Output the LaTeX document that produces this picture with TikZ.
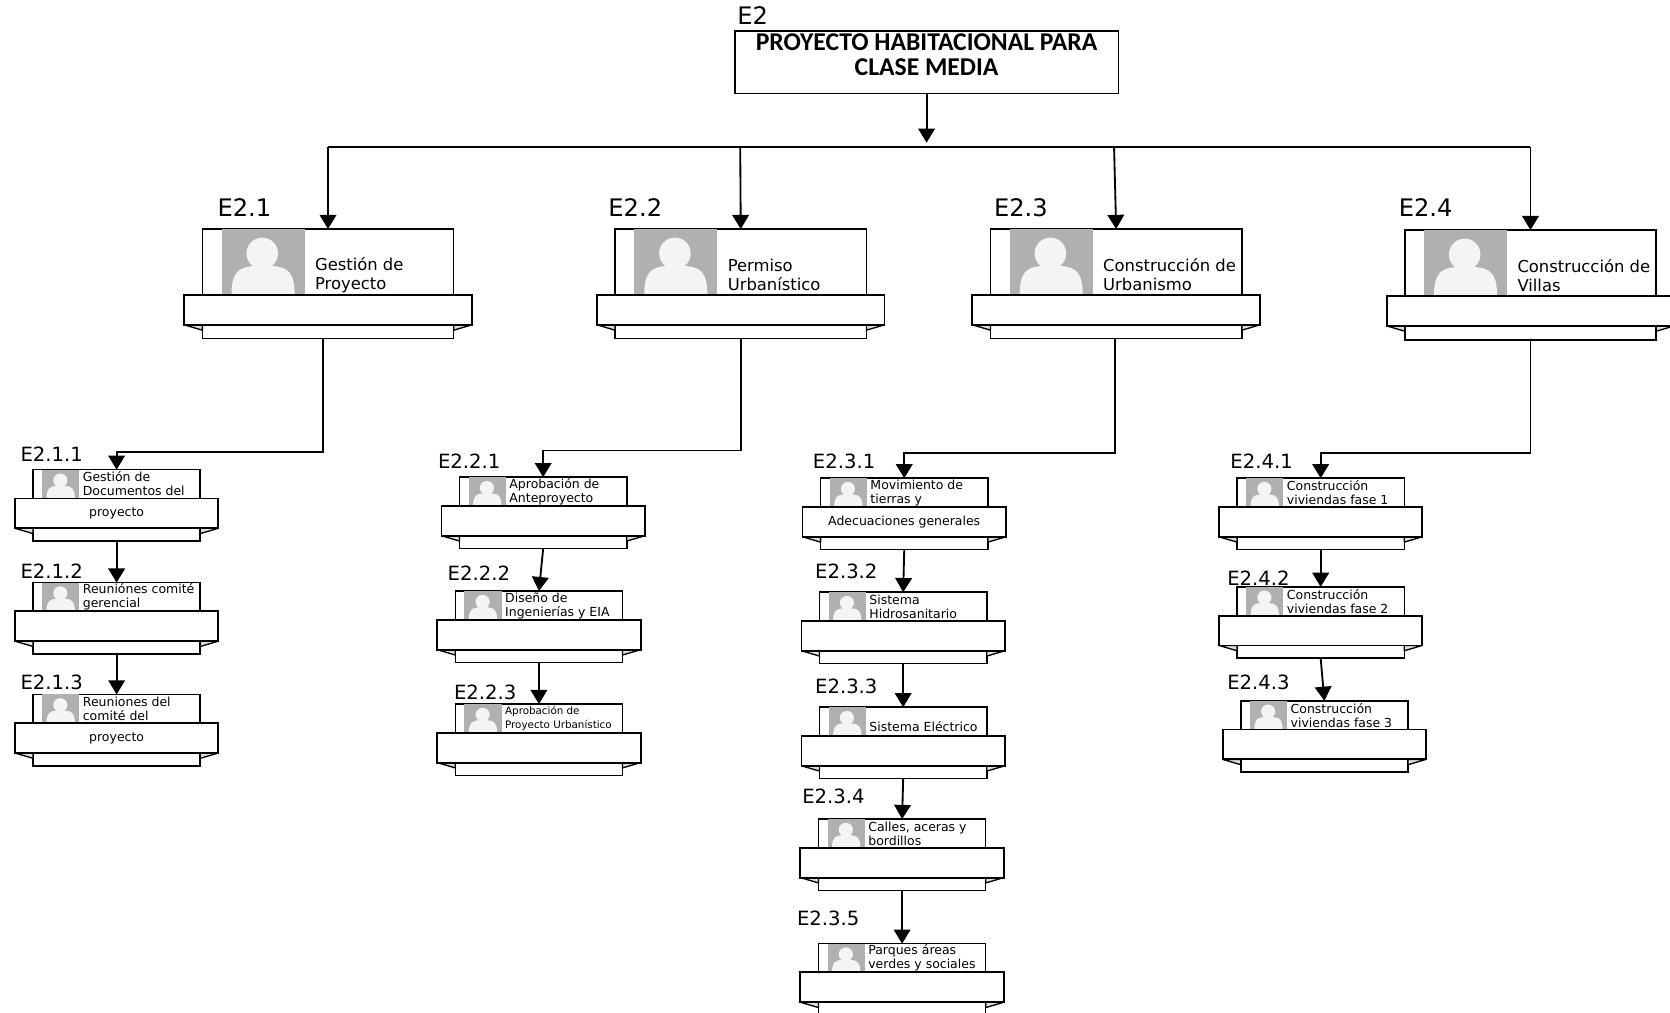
\documentclass[tikz,border=0pt]{standalone}
\usepackage{fontspec}
\setmainfont{DejaVu Sans}
\newfontfamily\titlefont{Carlito}
\usetikzlibrary{arrows.meta}

\newlength{\pxu}
\setlength{\pxu}{0.64pt}
\definecolor{photogray}{HTML}{B0B0B0}
\definecolor{photowhite}{HTML}{F4F4F4}

\tikzset{
  titlebox/.style={draw, line width=0.9pt, fill=white, inner sep=0pt, outer sep=0pt,
                   minimum width=360*\pxu, minimum height=59*\pxu},
  titletext/.style={align=center, inner sep=0pt,
                    font=\titlefont\bfseries\fontsize{15.4}{14.7}\selectfont},
  cardbody/.style={draw, line width=0.9pt, fill=white, inner sep=0pt, outer sep=0pt},
  cardband/.style={draw, line width=1.1pt, fill=white, inner sep=0pt, outer sep=0pt},
  cardfold/.style={draw, line width=0.8pt, line join=bevel, fill=gray!25},
  cardphoto/.style={fill=photogray, inner sep=0pt, outer sep=0pt},
  cardtext/.style={anchor=west, align=left, inner sep=0pt},
  bigtxt/.style={font=\fontsize{9.85}{11.4}\selectfont},
  smalltxt/.style={font=\fontsize{7.5}{8.4}\selectfont},
  lblbig/.style={anchor=west, inner sep=0pt, font=\fontsize{14.5}{16}\selectfont},
  lblsmall/.style={anchor=west, inner sep=0pt, font=\fontsize{11.8}{13}\selectfont},
  wbsline/.style={line width=1.1pt},
  wbsarr/.style={-{Triangle[width=10pt,length=8.5pt]}, line width=1.1pt}
}

% name, centre x, top y, text, band text
\newcommand{\wbscard}[5]{%
  \node[cardbody, minimum width=\cardw*\pxu, minimum height=\cardh*\pxu] (#1) at (#2,#3+\cardh/2) {};
  \node[cardphoto, minimum width=\photow*\pxu, minimum height=\bandtop*\pxu] (#1-photo) at (#2+\photox+\photow/2,#3+\bandtop/2) {};
  \begin{scope}[shift={(#2+\photox,#3)}, xscale=\photow/100, yscale=\bandtop/100]
    \fill[photowhite] (49,37) ellipse (19 and 24);
    \fill[photowhite] (12,100) .. controls (12,66) and (20,58) .. (38,56) -- (62,56) .. controls (80,58) and (88,66) .. (88,100) -- cycle;
  \end{scope}
  \node[cardtext, \cardtxt] (#1-text) at (#2+\textx,#3+\texty) {#4};
  \draw[cardfold] (#2-\bandw/2,#3+\bandtop+\bandh) -- (#2-\cardw/2,#3+\bandtop+\bandh+5) -- (#2-\cardw/2,#3+\bandtop+\bandh) -- cycle;
  \draw[cardfold] (#2+\bandw/2,#3+\bandtop+\bandh) -- (#2+\cardw/2,#3+\bandtop+\bandh+5) -- (#2+\cardw/2,#3+\bandtop+\bandh) -- cycle;
  \node[cardband, \cardtxt, minimum width=\bandw*\pxu, minimum height=\bandh*\pxu] (#1-band) at (#2,#3+\bandtop+\bandh/2) {#5};
}
\newcommand{\bigcard}{%
  \def\cardw{236}\def\cardh{103}\def\bandw{270}\def\bandtop{62}\def\bandh{28}%
  \def\photox{-100}\def\photow{78}\def\textx{-12.5}\def\texty{43}\def\cardtxt{bigtxt}%
  \wbscard}
\newcommand{\subcard}{%
  \def\cardw{157}\def\cardh{67}\def\bandw{191}\def\bandtop{27}\def\bandh{28}%
  \def\photox{-70}\def\photow{35}\def\textx{-32}\def\texty{13.5}\def\cardtxt{smalltxt}%
  \wbscard}
\newcommand{\finetxt}{\fontsize{6.2}{8.4}\selectfont}

\begin{document}
\begin{tikzpicture}[x=\pxu, y=-\pxu]
\useasboundingbox (0,0) rectangle (1568,951);

%% Top box and bus
\node[titlebox] (e2) at (870,58.5) {};
\node[titletext] (e2-text) at (870,51.5) {PROYECTO HABITACIONAL PARA\\CLASE MEDIA};
\coordinate (busl) at (308,138);
\coordinate (busr) at (1437,138);
\coordinate (busm) at (870,134);
\draw[wbsline] (busl) -- (busr);
\draw[wbsarr] (e2.south) -- (busm);

%% Level 2 cards
\bigcard{e21}{308}{215}{Gestión de\\Proyecto}{}
\bigcard{e22}{695.5}{215}{Permiso\\Urbanístico}{}
\bigcard{e23}{1048}{215}{Construcción de\\Urbanismo}{}
\bigcard{e24}{1437}{216}{Construcción de\\Villas}{}

%% Level 3 cards, left to right
\subcard{e211}{109.5}{441}{Gestión de\\Documentos del}{proyecto}
\subcard{e212}{109.5}{547}{Reuniónes comité\\gerencial}{}
\subcard{e213}{109.5}{652}{Reuniones del\\comité del}{proyecto}

\subcard{e221}{510}{448}{Aprobación de\\Anteproyecto}{}
\subcard{e222}{506}{555}{Diseño de\\Ingenierías y EIA}{}
\subcard{e223}{506}{661}{\finetxt Aprobación de\\\finetxt Proyecto Urbanístico}{}

\subcard{e231}{849}{449}{Movimiento de\\tierras y}{Adecuaciones generales}
\subcard{e232}{848}{556}{Sistema\\Hidrosanitario}{}
\subcard{e233}{848}{664}{\phantom{x}\\Sistema Eléctrico}{}
\subcard{e234}{847}{769}{Calles, aceras y\\bordillos}{}
\subcard{e235}{847}{886}{Parques áreas\\verdes y sociales}{}

\subcard{e241}{1240}{449}{Construcción\\viviendas fase 1}{}
\subcard{e242}{1240}{551}{Construcción\\viviendas fase 2}{}
\subcard{e243}{1243.5}{658}{Construcción\\viviendas fase 3}{}

%% Bus to level 2
\draw[wbsarr] (busl) -- (e21.north);
\draw[wbsarr] (695,138) coordinate (bus2) -- (e22.north);
\draw[wbsarr] (1046,138) coordinate (bus3) -- (e23.north);
\draw[wbsarr] (busr) -- (e24.north);

%% Level 2 to first child
\draw[wbsarr] ([xshift=-5*\pxu]e21.south) -- ++(0,106) -| (e211.north);
\draw[wbsarr] (e22.south) -- ++(0,105) -| (e221.north);
\draw[wbsarr] ([xshift=-1*\pxu]e23.south) -- ++(0,107) -| (e231.north);
\draw[wbsarr] (e24.south) -- ++(0,106) -| (e241.north);

%% Between siblings
\foreach \from/\to in {e211/e212, e212/e213, e221/e222, e222/e223,
                       e231/e232, e232/e233, e233/e234, e234/e235,
                       e241/e242, e242/e243}
  \draw[wbsarr] (\from.south) -- (\to.north);

%% Codes
\node[lblbig] (l2) at (692,15) {E2};
\foreach \name/\x/\y/\txt in {l21/204/195/E2.1, l22/571/195/E2.2, l23/933/195/E2.3, l24/1313/195/E2.4}
  \node[lblbig] (\name) at (\x,\y) {\txt};
\foreach \name/\x/\y/\txt in {l211/19/426/E2.1.1, l212/19/536/E2.1.2, l213/19/641/E2.1.3,
                              l221/411/433/E2.2.1, l222/420/538/E2.2.2, l223/426/650/E2.2.3,
                              l231/763/433/E2.3.1, l232/765/536/E2.3.2, l233/765/644/E2.3.3,
                              l234/753/748/E2.3.4, l235/748/862/E2.3.5,
                              l241/1155/433/E2.4.1, l242/1152/543/E2.4.2, l243/1152/641/E2.4.3}
  \node[lblsmall] (\name) at (\x,\y) {\txt};

\end{tikzpicture}
\end{document}
